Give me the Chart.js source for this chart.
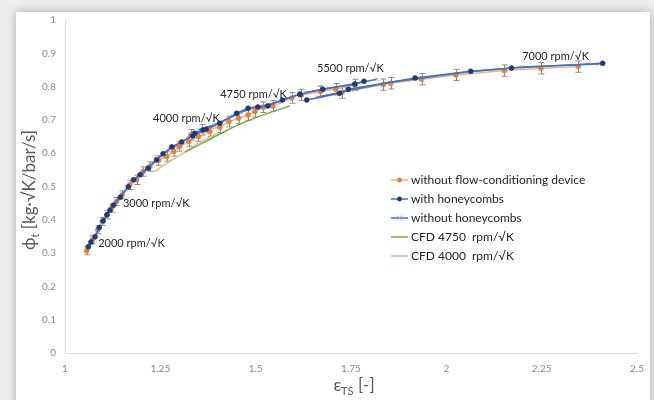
<!DOCTYPE html>
<html>
<head>
<meta charset="utf-8">
<script src="https://cdn.jsdelivr.net/npm/chart.js@4"></script>
<style>
  html, body { margin: 0; padding: 0; }
  body { width: 654px; height: 400px; background: #ececec; overflow: hidden; position: relative; }
  .card { position: absolute; left: 16px; top: 12px; width: 634px; height: 400px; background: #fff;
          box-shadow: 0 0 9px rgba(0,0,0,0.28); }
  #wrap { position: absolute; left: 0; top: 0; width: 654px; height: 400px; }
</style>
</head>
<body>
<div class="card"></div>
<div id="wrap"><canvas id="mapChart"></canvas></div>
<script>
// null marks a break between speed lines
const noDeviceX = [1.057, 1.072, 1.086, 1.098, 1.11, 1.122, 1.135, 1.15, null,
  1.17, 1.188, 1.205, 1.222, 1.245, 1.267, 1.285, 1.30, 1.325, 1.35, 1.38, null,
  1.33, 1.36, 1.406, 1.43, 1.455, 1.48, 1.498, 1.52, 1.545, 1.595, null,
  1.62, 1.67, 1.71, 1.761, null,
  1.726, 1.835, 1.854, 1.935, 2.025, 2.152, 2.248, 2.346];
const noDeviceY = [0.307, 0.34, 0.37, 0.395, 0.415, 0.435, 0.455, 0.475, null,
  0.505, 0.52, 0.545, 0.56, 0.578, 0.59, 0.605, 0.62, 0.635, 0.65, 0.665, null,
  0.655, 0.67, 0.678, 0.695, 0.705, 0.715, 0.725, 0.738, 0.742, 0.766, null,
  0.775, 0.785, 0.792, 0.805, null,
  0.782, 0.806, 0.81, 0.822, 0.835, 0.848, 0.855, 0.86];
const noDeviceErr = [0.012, 0.012, 0.012, 0.012, 0.012, 0.012, 0.012, 0.012, null,
  0.014, 0.014, 0.014, 0.014, 0.014, 0.014, 0.014, 0.014, 0.014, 0.014, 0.014, null,
  0.016, 0.016, 0.016, 0.016, 0.016, 0.016, 0.016, 0.016, 0.016, 0.016, null,
  0.017, 0.017, 0.017, 0.017, null,
  0.017, 0.017, 0.017, 0.017, 0.017, 0.017, 0.017, 0.017];

const honeyX = [1.061, 1.068, 1.079, 1.09, null,
  1.10, 1.11, 1.118, 1.127, 1.145, 1.166, null,
  1.18, 1.197, 1.218, 1.24, 1.257, 1.28, 1.306, 1.335, 1.362, null,
  1.34, 1.37, 1.406, 1.45, 1.48, 1.506, 1.532, 1.57, 1.616, null,
  1.616, 1.676, 1.76, 1.784, null,
  1.634, 1.72, 1.743, 1.918, 2.064, 2.171, 2.41];
const honeyY = [0.319, 0.333, 0.349, 0.377, null,
  0.397, 0.415, 0.429, 0.444, 0.468, 0.499, null,
  0.52, 0.535, 0.555, 0.58, 0.598, 0.619, 0.634, 0.652, 0.67, null,
  0.66, 0.672, 0.69, 0.72, 0.735, 0.739, 0.742, 0.76, 0.777, null,
  0.777, 0.792, 0.808, 0.816, null,
  0.76, 0.78, 0.792, 0.826, 0.846, 0.856, 0.87];

const noHoneyX = [1.064, 1.075, 1.085, null,
  1.095, 1.108, 1.123, 1.14, 1.16, null,
  1.175, 1.2, 1.225, 1.25, 1.275, 1.3, 1.33, 1.36, null,
  1.35, 1.39, 1.43, 1.46, 1.49, 1.52, 1.56, 1.6, null,
  1.63, 1.69, 1.75, 1.818, null,
  1.66, 1.75, 1.85, 2.049, 2.198, 2.40];
const noHoneyY = [0.325, 0.345, 0.365, null,
  0.39, 0.41, 0.44, 0.462, 0.49, null,
  0.515, 0.54, 0.565, 0.59, 0.612, 0.63, 0.65, 0.665, null,
  0.67, 0.685, 0.705, 0.722, 0.735, 0.742, 0.755, 0.772, null,
  0.782, 0.795, 0.806, 0.822, null,
  0.768, 0.79, 0.812, 0.843, 0.859, 0.868];

const cfd4750X = [1.315, 1.36, 1.41, 1.46, 1.52, 1.59];
const cfd4750Y = [0.603, 0.63, 0.66, 0.688, 0.715, 0.742];
const cfd4000X = [1.232, 1.27, 1.31, 1.35, 1.40];
const cfd4000Y = [0.543, 0.572, 0.60, 0.63, 0.66];

const speedLabels = ['2000 rpm/\u221AK', '3000 rpm/\u221AK', '4000 rpm/\u221AK',
  '4750 rpm/\u221AK', '5500 rpm/\u221AK', '7000 rpm/\u221AK'];
const speedLabelX = [1.087, 1.152, 1.231, 1.407, 1.661, 2.199];
const speedLabelY = [0.33, 0.45, 0.703, 0.775, 0.853, 0.892];

const xTicks = [1, 1.25, 1.5, 1.75, 2, 2.25, 2.5];
const yTicks = [0, 0.1, 0.2, 0.3, 0.4, 0.5, 0.6, 0.7, 0.8, 0.9, 1];

function pts(xs, ys) {
  return xs.map((x, i) => ({ x: x, y: ys[i] }));
}

const FONT = 'Lato, "Open Sans", sans-serif';

const overlay = {
  id: 'overlay',
  beforeDatasetsDraw(chart) {
    const ctx = chart.ctx, sx = chart.scales.x, sy = chart.scales.y;
    ctx.save();
    ctx.strokeStyle = '#8c8c8c';
    ctx.lineWidth = 1;
    noDeviceX.forEach((x, i) => {
      if (x === null) return;
      const px = Math.round(sx.getPixelForValue(x)) + 0.5;
      const top = sy.getPixelForValue(noDeviceY[i] + noDeviceErr[i]);
      const bot = sy.getPixelForValue(noDeviceY[i] - noDeviceErr[i]);
      ctx.beginPath();
      ctx.moveTo(px, top); ctx.lineTo(px, bot);
      ctx.moveTo(px - 3, top); ctx.lineTo(px + 3, top);
      ctx.moveTo(px - 3, bot); ctx.lineTo(px + 3, bot);
      ctx.stroke();
    });
    ctx.restore();
  },
  afterDraw(chart) {
    const ctx = chart.ctx, sx = chart.scales.x, sy = chart.scales.y;
    ctx.save();
    // speed line labels
    ctx.fillStyle = '#262626';
    ctx.font = '11px ' + FONT;
    ctx.textAlign = 'left';
    ctx.textBaseline = 'middle';
    speedLabels.forEach((t, i) => {
      ctx.fillText(t, sx.getPixelForValue(speedLabelX[i]), sy.getPixelForValue(speedLabelY[i]));
    });

    // axis titles with subscripts
    ctx.fillStyle = '#595959';
    const big = '17px ' + FONT, small = '11px ' + FONT;
    function titled(parts) {
      let w = 0;
      parts.forEach(p => { ctx.font = p[1] ? small : big; w += ctx.measureText(p[0]).width; });
      let x = -w / 2;
      parts.forEach(p => {
        ctx.font = p[1] ? small : big;
        ctx.fillText(p[0], x, p[1] ? 5 : 0);
        x += ctx.measureText(p[0]).width;
      });
    }
    ctx.textBaseline = 'middle';
    ctx.save();
    ctx.translate(30, 190);
    ctx.rotate(-Math.PI / 2);
    titled([['\u03D5', false], ['t', true], [' [kg\u00B7\u221AK/bar/s]', false]]);
    ctx.restore();
    ctx.save();
    ctx.translate(354, 386);
    titled([['\u03B5', false], ['TS', true], [' [-]', false]]);
    ctx.restore();

    // legend
    ctx.font = '12px ' + FONT;
    chart.data.datasets.forEach((ds, i) => {
      const y = 180 + i * 19;
      ctx.strokeStyle = ds.borderColor;
      ctx.lineWidth = 1.5;
      ctx.beginPath();
      ctx.moveTo(391, y); ctx.lineTo(408, y);
      ctx.stroke();
      if (ds.pointRadius > 0) {
        if (ds.pointStyle === 'crossRot') {
          ctx.strokeStyle = ds.pointBorderColor;
          ctx.lineWidth = 1;
          ctx.beginPath();
          ctx.moveTo(397, y - 2.5); ctx.lineTo(402, y + 2.5);
          ctx.moveTo(397, y + 2.5); ctx.lineTo(402, y - 2.5);
          ctx.stroke();
        } else {
          ctx.fillStyle = ds.pointBackgroundColor;
          ctx.beginPath();
          ctx.arc(399.5, y, 2.4, 0, Math.PI * 2);
          ctx.fill();
        }
      }
      ctx.fillStyle = '#262626';
      ctx.fillText(ds.label, 411, y);
    });
    ctx.restore();
  }
};

const mapCtx = document.getElementById('mapChart').getContext('2d');
const mapChart = new Chart(mapCtx, {
  type: 'scatter',
  data: {
    datasets: [{
      label: 'without flow-conditioning device',
      data: pts(noDeviceX, noDeviceY),
      showLine: true,
      borderColor: '#f4b183',
      borderWidth: 1.5,
      pointStyle: 'circle',
      pointRadius: 2.5,
      pointBackgroundColor: '#ed7d31',
      pointBorderColor: '#ed7d31',
      pointBorderWidth: 0.5,
      order: 3
    }, {
      label: 'with honeycombs',
      data: pts(honeyX, honeyY),
      showLine: true,
      borderColor: '#4472c4',
      borderWidth: 1.5,
      pointStyle: 'circle',
      pointRadius: 2.5,
      pointBackgroundColor: '#1f3a7a',
      pointBorderColor: '#1f3a7a',
      pointBorderWidth: 0.5,
      order: 1
    }, {
      label: 'without honeycombs',
      data: pts(noHoneyX, noHoneyY),
      showLine: true,
      borderColor: '#4472c4',
      borderWidth: 1.5,
      pointStyle: 'crossRot',
      pointRadius: 2.5,
      pointBackgroundColor: '#8faadc',
      pointBorderColor: '#8faadc',
      pointBorderWidth: 1,
      order: 2
    }, {
      label: 'CFD 4750  rpm/\u221AK',
      data: pts(cfd4750X, cfd4750Y),
      showLine: true,
      borderColor: '#70ad47',
      borderWidth: 1.5,
      pointRadius: 0,
      tension: 0.4,
      order: 4
    }, {
      label: 'CFD 4000  rpm/\u221AK',
      data: pts(cfd4000X, cfd4000Y),
      showLine: true,
      borderColor: '#f4b183',
      borderWidth: 1.5,
      pointRadius: 0,
      tension: 0.4,
      order: 5
    }]
  },
  options: {
    responsive: true,
    maintainAspectRatio: false,
    animation: false,
    spanGaps: false,
    layout: { padding: { top: 20, right: 17, left: 0, bottom: 0 } },
    plugins: { legend: { display: false }, tooltip: { enabled: false } },
    scales: {
      x: {
        type: 'linear',
        min: 1, max: 2.5,
        afterBuildTicks: s => { s.ticks = xTicks.map(v => ({ value: v })); },
        afterFit: s => { s.height = 47; },
        grid: { display: false, drawTicks: false },
        border: { display: true, color: '#d9d9d9', width: 1 },
        ticks: { color: '#8c8c8c', font: { size: 10, family: FONT }, padding: 10, maxRotation: 0,
                 callback: v => String(v) }
      },
      y: {
        type: 'linear',
        min: 0, max: 1,
        afterBuildTicks: s => { s.ticks = yTicks.map(v => ({ value: v })); },
        afterFit: s => { s.width = 65; },
        grid: { display: false, drawTicks: false },
        border: { display: true, color: '#d9d9d9', width: 1 },
        ticks: { color: '#8c8c8c', font: { size: 10, family: FONT }, padding: 9,
                 callback: v => String(v) }
      }
    }
  },
  plugins: [overlay]
});
</script>
</body>
</html>
